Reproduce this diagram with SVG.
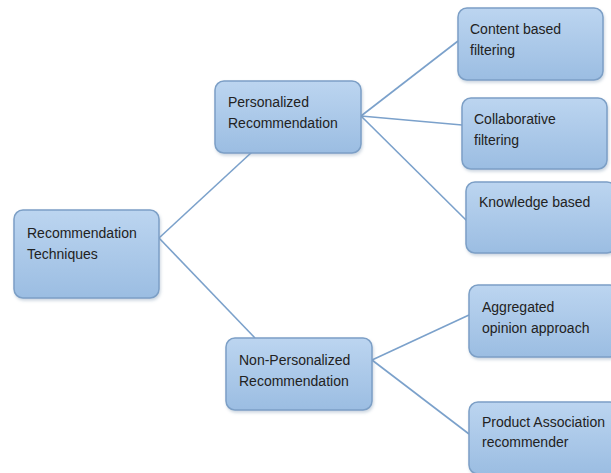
<svg xmlns="http://www.w3.org/2000/svg" width="611" height="473" viewBox="0 0 611 473">
<style>
.box{fill:url(#g);stroke:#7c9fc6;stroke-width:1.5;filter:url(#sh)}
.t{font-family:"Liberation Sans",Arial,sans-serif;font-size:14px;fill:#222}
.c{stroke:#7ba1cb;stroke-width:1.6;fill:none}
</style>
<defs>
<linearGradient id="g" x1="0" y1="0" x2="0" y2="1">
<stop offset="0" stop-color="#bcd5f0"/>
<stop offset="1" stop-color="#9bbde2"/>
</linearGradient>
<filter id="sh" x="-10%" y="-10%" width="125%" height="130%">
<feDropShadow dx="1" dy="2" stdDeviation="1.5" flood-color="#6d8aa8" flood-opacity="0.35"/>
</filter>
</defs>
<rect width="611" height="473" fill="#fff"/>
<g id="connectors">
<line class="c" x1="159" y1="238" x2="252" y2="152"/>
<line class="c" x1="159" y1="238" x2="255" y2="338"/>
<line class="c" x1="361" y1="116" x2="458" y2="41"/>
<line class="c" x1="361" y1="116" x2="462" y2="125"/>
<line class="c" x1="361" y1="116" x2="467" y2="221"/>
<line class="c" x1="372" y1="360" x2="469" y2="315"/>
<line class="c" x1="372" y1="360" x2="469" y2="434"/>
</g>
<g id="root">
<rect class="box" x="14" y="210" width="145" height="88" rx="9"/>
<text class="t" x="27" y="238">Recommendation</text>
<text class="t" x="27" y="259">Techniques</text>
</g>
<g id="personalized">
<rect class="box" x="215" y="81" width="146" height="72" rx="9"/>
<text class="t" x="228" y="107">Personalized</text>
<text class="t" x="228" y="128">Recommendation</text>
</g>
<g id="nonpersonalized">
<rect class="box" x="226" y="338" width="146" height="72" rx="9"/>
<text class="t" x="239" y="365">Non-Personalized</text>
<text class="t" x="239" y="386">Recommendation</text>
</g>
<g id="content">
<rect class="box" x="458" y="8" width="145" height="72" rx="9"/>
<text class="t" x="470" y="34">Content based</text>
<text class="t" x="470" y="55">filtering</text>
</g>
<g id="collaborative">
<rect class="box" x="462" y="98" width="145" height="71" rx="9"/>
<text class="t" x="474" y="124">Collaborative</text>
<text class="t" x="474" y="145">filtering</text>
</g>
<g id="knowledge">
<rect class="box" x="466" y="182" width="150" height="71" rx="9"/>
<text class="t" x="479" y="207">Knowledge based</text>
</g>
<g id="aggregated">
<rect class="box" x="469" y="285" width="150" height="72" rx="9"/>
<text class="t" x="482" y="312">Aggregated</text>
<text class="t" x="482" y="333">opinion approach</text>
</g>
<g id="product">
<rect class="box" x="469" y="402" width="150" height="72" rx="9"/>
<text class="t" x="482" y="427">Product Association</text>
<text class="t" x="482" y="447">recommender</text>
</g>
</svg>
